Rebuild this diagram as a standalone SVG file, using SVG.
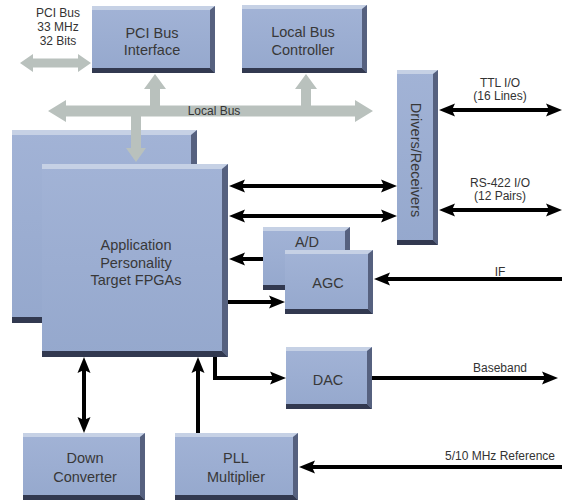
<svg xmlns="http://www.w3.org/2000/svg" width="564" height="501" viewBox="0 0 564 501">
<style>
.body{fill:url(#bg)}
.top{fill:#c6d1e5}
.rt{fill:#56617f}
.bt{fill:#323950}
.lbl{font-family:"Liberation Sans",Arial,sans-serif;font-size:14.5px;fill:#383838;text-anchor:middle}
.sm{font-family:"Liberation Sans",Arial,sans-serif;font-size:12px;fill:#333;text-anchor:middle}
.bus{fill:#b9c1bd}
.wire{fill:none;stroke:#000;stroke-width:4}
</style>
<defs>
<linearGradient id="bg" x1="0" y1="0" x2="0" y2="1">
<stop offset="0" stop-color="#a2b3d6"/>
<stop offset="1" stop-color="#95a8cd"/>
</linearGradient>
<marker id="ah" viewBox="0 -7 16 14" refX="5" refY="0" markerWidth="16" markerHeight="14" markerUnits="userSpaceOnUse" orient="auto-start-reverse">
<path d="M0,-6.5 L16,0 L0,6.5 L3,0 Z" fill="#000"/>
</marker>
</defs>
<rect width="564" height="501" fill="#fff"/>

<g id="buses">
<polygon class="bus" points="20,63 33,54 33,58.5 78,58.5 78,54 91,63 78,72 78,67.5 33,67.5 33,72"/>
<polygon class="bus" points="48,111 66,100 66,105.5 355,105.5 355,100 373,111 355,122 355,116.5 66,116.5 66,122"/>
<polygon class="bus" points="155,74 166,89 160,89 160,106 150,106 150,89 144,89"/>
<polygon class="bus" points="306,74 317,89 311,89 311,106 301,106 301,89 295,89"/>
</g>

<g id="pci-label">
<text class="sm" x="58" y="17">PCI Bus</text>
<text class="sm" x="58" y="31">33 MHz</text>
<text class="sm" x="58" y="45">32 Bits</text>
</g>
<text class="sm" x="214" y="115" id="localbus-label">Local Bus</text>

<g id="pci-interface">
<rect class="body" x="92" y="6" width="123" height="67"/>
<polygon class="top" points="92,6 215,6 210,10 92,10"/>
<polygon class="rt" points="215,6 215,73 210,68 210,10"/>
<polygon class="bt" points="92,73 215,73 210,68 92,68"/>
<text class="lbl" x="152" y="38">PCI Bus</text>
<text class="lbl" x="152" y="55">Interface</text>
</g>

<g id="local-bus-controller">
<rect class="body" x="242" y="5" width="125" height="68"/>
<polygon class="top" points="242,5 367,5 362,9 242,9"/>
<polygon class="rt" points="367,5 367,73 362,68 362,9"/>
<polygon class="bt" points="242,73 367,73 362,68 242,68"/>
<text class="lbl" x="303" y="37">Local Bus</text>
<text class="lbl" x="303" y="55">Controller</text>
</g>

<g id="fpga-back">
<rect class="body" x="12" y="130" width="185" height="193"/>
<polygon class="top" points="12,130 197,130 191,135 12,135"/>
<polygon class="rt" points="197,130 197,323 191,317 191,135"/>
<polygon class="bt" points="12,323 197,323 191,317 12,317"/>
</g>

<polygon id="bus-down" class="bus" points="131,116 141,116 141,148 146,148 136,162 126,148 131,148"/>

<g id="fpga-front">
<rect class="body" x="42" y="164" width="186" height="193"/>
<polygon class="top" points="42,164 228,164 222,169 42,169"/>
<polygon class="rt" points="228,164 228,357 222,351 222,169"/>
<polygon class="bt" points="42,357 228,357 222,351 42,351"/>
<text class="lbl" x="136" y="250">Application</text>
<text class="lbl" x="136" y="268">Personality</text>
<text class="lbl" x="136" y="285">Target FPGAs</text>
</g>

<g id="drivers-receivers">
<rect class="body" x="397" y="70" width="41" height="175"/>
<polygon class="top" points="397,70 438,70 433,74 397,74"/>
<polygon class="rt" points="438,70 438,245 433,240 433,74"/>
<polygon class="bt" points="397,245 438,245 433,240 397,240"/>
<text class="lbl" transform="translate(411,160) rotate(90)" x="0" y="0">Drivers/Receivers</text>
</g>

<g id="ad">
<rect class="body" x="263" y="227" width="87" height="63"/>
<polygon class="top" points="263,227 350,227 345,231 263,231"/>
<polygon class="rt" points="350,227 350,290 345,285 345,231"/>
<polygon class="bt" points="263,290 350,290 345,285 263,285"/>
<text class="lbl" x="307" y="247">A/D</text>
</g>

<g id="agc">
<rect class="body" x="285" y="250" width="88" height="64"/>
<polygon class="top" points="285,250 373,250 368,254 285,254"/>
<polygon class="rt" points="373,250 373,314 368,309 368,254"/>
<polygon class="bt" points="285,314 373,314 368,309 285,309"/>
<text class="lbl" x="328" y="288">AGC</text>
</g>

<g id="dac">
<rect class="body" x="286" y="347" width="86" height="62"/>
<polygon class="top" points="286,347 372,347 367,351 286,351"/>
<polygon class="rt" points="372,347 372,409 367,404 367,351"/>
<polygon class="bt" points="286,409 372,409 367,404 286,404"/>
<text class="lbl" x="328" y="385">DAC</text>
</g>

<g id="down-converter">
<rect class="body" x="23" y="433" width="122" height="67"/>
<polygon class="top" points="23,433 145,433 140,437 23,437"/>
<polygon class="rt" points="145,433 145,500 140,495 140,437"/>
<polygon class="bt" points="23,500 145,500 140,495 23,495"/>
<text class="lbl" x="85" y="463">Down</text>
<text class="lbl" x="85" y="482">Converter</text>
</g>

<g id="pll-multiplier">
<rect class="body" x="175" y="433" width="123" height="67"/>
<polygon class="top" points="175,433 298,433 293,437 175,437"/>
<polygon class="rt" points="298,433 298,500 293,495 293,437"/>
<polygon class="bt" points="175,500 298,500 293,495 175,495"/>
<text class="lbl" x="236" y="463">PLL</text>
<text class="lbl" x="236" y="482">Multiplier</text>
</g>

<g id="connectors">
<path class="wire" d="M240,186 H386" marker-start="url(#ah)" marker-end="url(#ah)"/>
<path class="wire" d="M240,216 H386" marker-start="url(#ah)" marker-end="url(#ah)"/>
<path class="wire" d="M450,110 H551" marker-start="url(#ah)" marker-end="url(#ah)"/>
<path class="wire" d="M450,210 H551" marker-start="url(#ah)" marker-end="url(#ah)"/>
<path class="wire" d="M263,259 H240" marker-end="url(#ah)"/>
<path class="wire" d="M228,302 H274" marker-end="url(#ah)"/>
<path class="wire" d="M562,279 H385" marker-end="url(#ah)"/>
<path class="wire" d="M215,357 V378 H275" marker-end="url(#ah)"/>
<path class="wire" d="M372,378 H547" marker-end="url(#ah)"/>
<path class="wire" d="M84,368 V422" marker-start="url(#ah)" marker-end="url(#ah)"/>
<path class="wire" d="M198,433 V368" marker-end="url(#ah)"/>
<path class="wire" d="M562,467 H310" marker-end="url(#ah)"/>
</g>

<g id="signal-labels">
<text class="sm" x="500" y="87">TTL I/O</text>
<text class="sm" x="500" y="100">(16 Lines)</text>
<text class="sm" x="500" y="187">RS-422 I/O</text>
<text class="sm" x="500" y="200">(12 Pairs)</text>
<text class="sm" x="500" y="276">IF</text>
<text class="sm" x="500" y="372">Baseband</text>
<text class="sm" x="500" y="460">5/10 MHz Reference</text>
</g>
</svg>
